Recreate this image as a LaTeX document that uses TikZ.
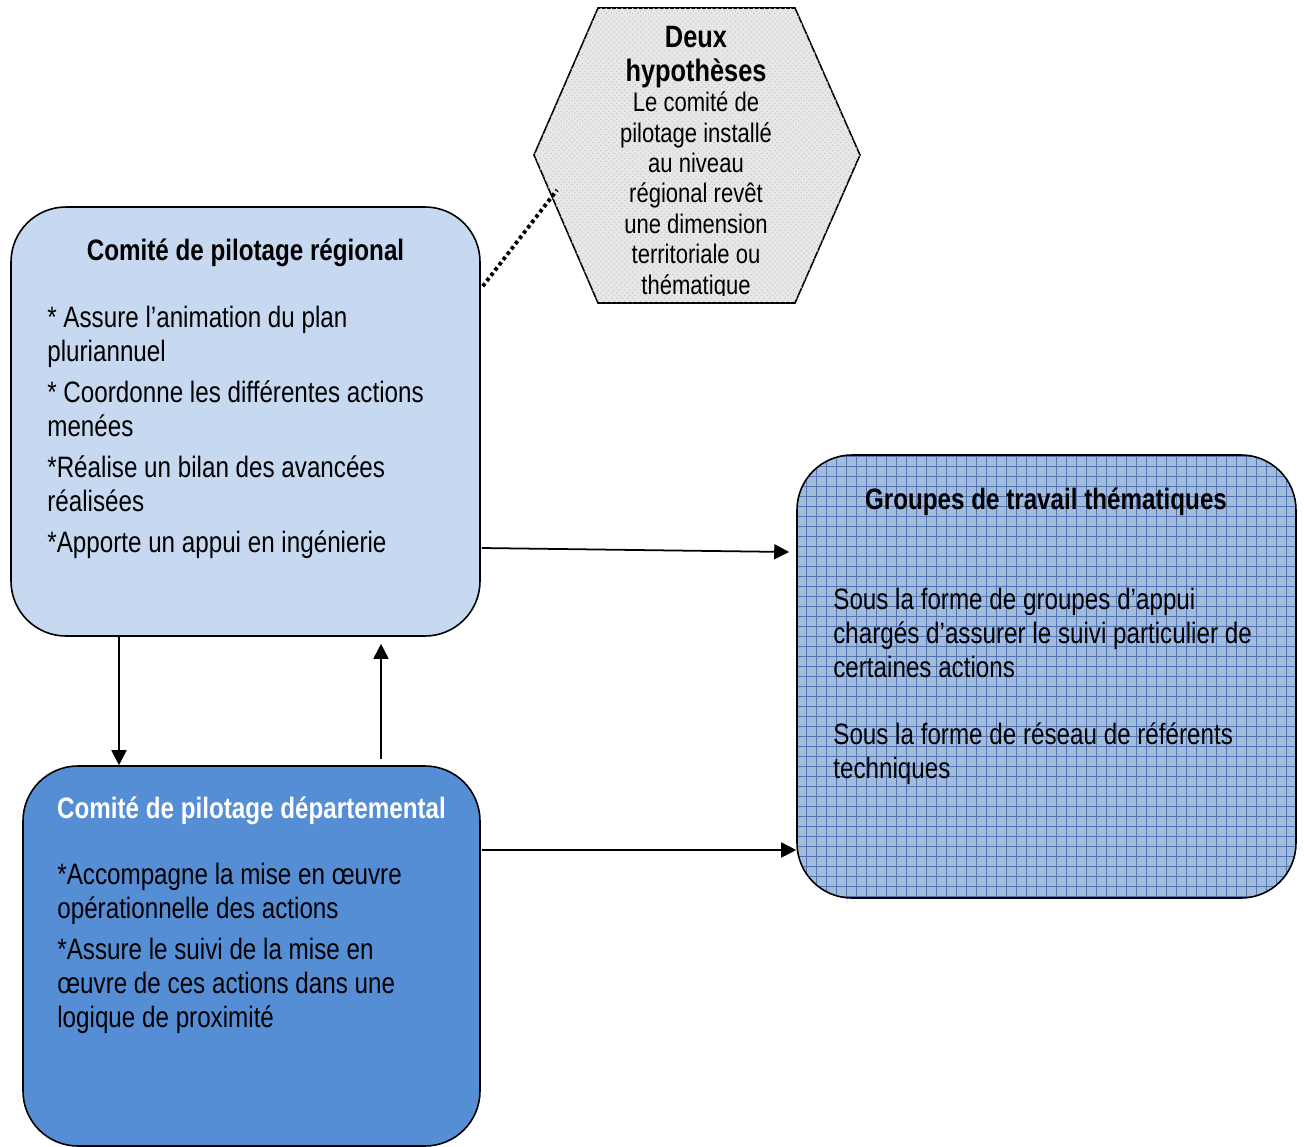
\documentclass[tikz,border=0pt]{standalone}
\usepackage{fontspec}
\setmainfont{Liberation Sans}[FakeStretch=0.82]
\usetikzlibrary{arrows.meta,patterns,calc}
\definecolor{regblue}{RGB}{198,217,241}
\definecolor{depblue}{RGB}{85,142,213}
\definecolor{grpblue}{RGB}{162,188,222}
\definecolor{gridblue}{RGB}{84,116,176}
\definecolor{hexgray}{RGB}{232,232,232}
\begin{document}
\begin{tikzpicture}[>={Triangle[length=0.3cm,width=0.3cm]},
    box/.style={draw,line width=0.9pt,rounded corners=1.1cm,inner sep=0pt},
    head/.style={anchor=base,font=\bfseries\fontsize{16.8}{19.3}\selectfont},
    body/.style={anchor=north west,align=left,inner sep=0pt,font=\fontsize{16.8}{19.3}\selectfont},
    link/.style={->,line width=1pt}]
    \useasboundingbox (0,0) rectangle (26.08,-22.94);

    % Boxes
    \node[box,fill=regblue,minimum width=9.38cm,minimum height=8.58cm] (reg) at (4.91,-8.43) {};
    \node[box,fill=depblue,minimum width=9.14cm,minimum height=7.6cm] (dep) at (5.03,-19.12) {};
    \node[box,fill=grpblue,minimum width=9.98cm,minimum height=8.86cm,
        path picture={\draw[gridblue,line width=0.25pt] (path picture bounding box.south west) grid[step=0.2] (path picture bounding box.north east);}] (grp) at (20.93,-13.53) {};

    % Hexagon
    \coordinate (h1) at (11.96,-0.16);
    \coordinate (h2) at (15.9,-0.16);
    \coordinate (h3) at (17.2,-3.1);
    \coordinate (h4) at (15.9,-6.06);
    \coordinate (h5) at (11.96,-6.06);
    \coordinate (h6) at (10.68,-3.1);
    \coordinate (hexdot) at (11.14,-3.8);
    \draw[line width=0.9pt,fill=hexgray,postaction={pattern=crosshatch dots,pattern color=gray!40}] (h1) -- (h2) -- (h3) -- (h4) -- (h5) -- (h6) -- cycle;
    \begin{scope}
        \clip (h1) -- (h2) -- (h3) -- (h4) -- (h5) -- (h6) -- cycle;
        \clip (10,0) rectangle (18,-5.9);
        \node[anchor=north,align=center,inner sep=0pt,font=\bfseries\fontsize{17.6}{19.3}\selectfont] (hyphead) at (13.92,-0.52) {Deux\\hypothèses};
        \node[anchor=north,align=center,inner sep=0pt,font=\fontsize{15.3}{17.3}\selectfont] (hyptext) at (13.92,-1.83)
            {Le comité de\\pilotage installé\\au niveau\\régional revêt\\une dimension\\territoriale ou\\thématique};
    \end{scope}

    % Titles
    \node[head] (regtitle) at (4.91,-5.2) {Comité de pilotage régional};
    \node[head,white] (deptitle) at (5.03,-16.36) {Comité de pilotage départemental};
    \node[head] (grptitle) at (20.92,-10.18) {Groupes de travail thématiques};

    % Texts
    \node[body] (regtext) at (0.94,-6.12) {* Assure l’animation du plan\\pluriannuel\\[4pt]
        * Coordonne les différentes actions\\menées\\[4pt]
        *Réalise un bilan des avancées\\réalisées\\[4pt]
        *Apporte un appui en ingénierie};
    \node[body] (deptext) at (1.14,-17.26) {*Accompagne la mise en œuvre\\opérationnelle des actions\\[4pt]
        *Assure le suivi de la mise en\\œuvre de ces actions dans une\\logique de proximité};
    \node[body] (grptext) at (16.66,-11.76) {Sous la forme de groupes d’appui\\chargés d’assurer le suivi particulier de\\certaines actions\\[19pt]
        Sous la forme de réseau de référents\\techniques};

    % Links
    \draw[link] (2.38,0 |- reg.south) -- (2.38,0 |- dep.north);
    \draw[link] ($(7.62,0 |- dep.north)+(0,0.12)$) -- ($(7.62,0 |- reg.south)+(0,-0.14)$);
    \draw[link] ($(reg.east)+(0.02,-2.53)$) -- ($(grp.west)+(-0.14,2.49)$);
    \draw[link] ($(dep.east)+(0.02,2.12)$) coordinate (d1) -- (d1 -| grp.west);
    \draw[line width=2.2pt,dash pattern=on 2pt off 1.8pt] ($(reg.north east)+(0.04,-1.6)$) -- (hexdot);
\end{tikzpicture}
\end{document}
